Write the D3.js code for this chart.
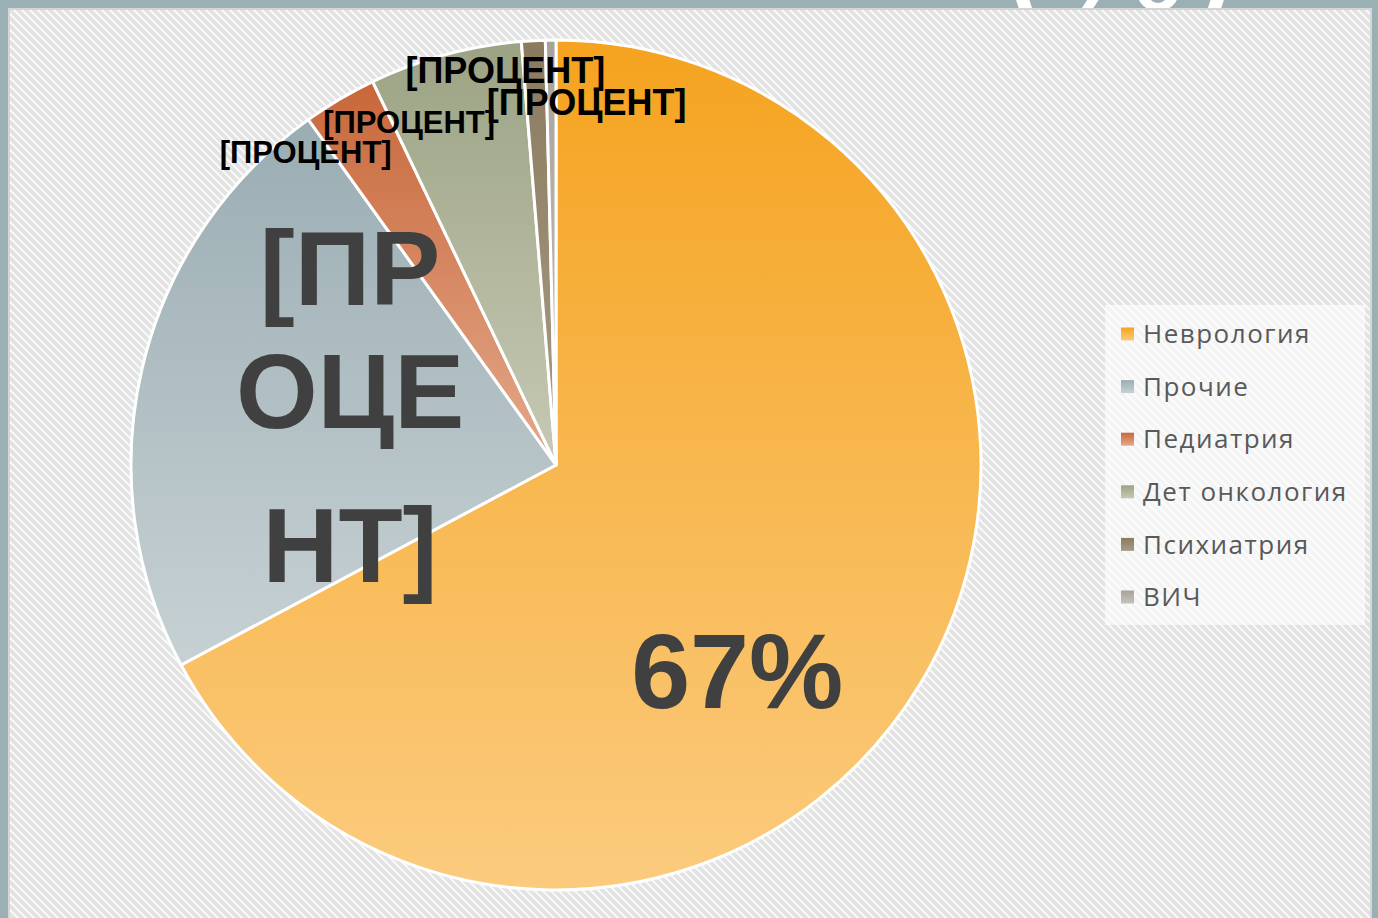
<!DOCTYPE html>
<html>
<head>
<meta charset="utf-8">
<script src="https://cdn.jsdelivr.net/npm/d3@7"></script>
<style>
  html, body { margin: 0; padding: 0; background: #9bb0b5; }
  svg { display: block; }
</style>
</head>
<body>
<svg id="chart" width="1378" height="918"></svg>
<script>
// data
const categories = ["Неврология", "Прочие", "Педиатрия", "Дет онкология", "Психиатрия", "ВИЧ"];
const shares = [67.2, 22.9, 2.8, 5.8, 0.9, 0.4];
const labelTexts = ["67%", "[ПРОЦЕНТ]", "[ПРОЦЕНТ]", "[ПРОЦЕНТ]", "[ПРОЦЕНТ]", "[ПРОЦЕНТ]"];

// gradient colours, top -> bottom
const topColors = ["#f5a31f", "#9aadb3", "#c8673a", "#9ca384", "#8a7a5e", "#a7a29a"];
const bottomColors = ["#fbcb7e", "#c7d1d4", "#e4a98b", "#c6c9b4", "#a99d87", "#c6c2bb"];

// label placement: radius fraction for the centroid + nudge, like the manual placement in the original
const labelLayout = [
  { k: 0.64, dx: -52, dy: 103, size: 106, fill: "#404040" },
  { k: 0.5, dx: 1, dy: 0, size: 105, fill: "#404040" },
  { k: 1, dx: -34, dy: 64, size: 31, fill: "#000" },
  { k: 1, dx: -36, dy: 78, size: 31, fill: "#000" },
  { k: 1, dx: -28, dy: 42, size: 36, fill: "#000" },
  { k: 1, dx: 36, dy: 75, size: 36, fill: "#000" }
];

const svg = d3.select("#chart");
const width = +svg.attr("width");
const height = +svg.attr("height");
const defs = svg.append("defs");

//hatch pattern for the plot area
const pat = defs.append("pattern")
  .attr("id", "hatch")
  .attr("patternUnits", "userSpaceOnUse")
  .attr("width", 8).attr("height", 8);
pat.append("rect").attr("width", 8).attr("height", 8).attr("fill", "#fbfbfb");
pat.append("path")
  .attr("d", "M-2,-2L10,10M-2,6L2,10M6,-2L10,2")
  .attr("stroke", "#e3e3e3")
  .attr("stroke-width", 3.8);

categories.forEach((c, i) => {
  const g = defs.append("linearGradient")
    .attr("id", "grad" + i)
    .attr("x1", 0).attr("y1", 0).attr("x2", 0).attr("y2", 1);
  g.append("stop").attr("offset", "0%").attr("stop-color", topColors[i]);
  g.append("stop").attr("offset", "100%").attr("stop-color", bottomColors[i]);
});

//slide title peeking in at the top
svg.append("text")
  .attr("x", 1120)
  .attr("y", 10)
  .attr("text-anchor", "middle")
  .attr("font-family", "Liberation Sans, Arial, sans-serif")
  .attr("font-size", 150)
  .attr("fill", "#fff")
  .text("(%)");

//plot area
svg.append("rect")
  .attr("x", 9).attr("y", 9)
  .attr("width", width - 16).attr("height", height)
  .attr("fill", "url(#hatch)")
  .attr("stroke", "#d6d6d6")
  .attr("stroke-width", 2);

const cx = 556, cy = 465, R = 425;
const pie = d3.pie().sort(null).value(d => d.v);
const arc = d3.arc().innerRadius(0).outerRadius(R);
const data = categories.map((c, i) => ({ name: c, v: shares[i], i }));
const arcs = pie(data);

const g = svg.append("g").attr("transform", `translate(${cx},${cy})`);

g.selectAll("path.slice")
  .data(arcs)
  .join("path")
  .attr("class", "slice")
  .attr("d", arc)
  .attr("fill", d => `url(#grad${d.data.i})`)
  .attr("stroke", "#fff")
  .attr("stroke-width", 3)
  .attr("stroke-linejoin", "round");

//labels
arcs.forEach((d, i) => {
  const L = labelLayout[i];
  const lab = d3.arc().innerRadius(R * L.k).outerRadius(R * L.k);
  const [x, y] = lab.centroid(d);
  const t = g.append("text")
    .attr("x", x + L.dx)
    .attr("y", y + L.dy)
    .attr("text-anchor", "middle")
    .attr("font-family", "Liberation Sans, Arial, sans-serif")
    .attr("font-weight", "bold")
    .attr("font-size", L.size)
    .attr("fill", L.fill);
  if (i === 1) {
    // big label wraps into three lines inside the slice
    const lines = ["[ПР", "ОЦЕ", "НТ]"];
    const gaps = [-112, 123, 154];
    lines.forEach((s, j) => {
      t.append("tspan").attr("x", x + L.dx).attr("dy", gaps[j]).text(s);
    });
  } else {
    t.text(labelTexts[i]);
  }
});

//legend
const legend = svg.append("g").attr("transform", "translate(1105,305)");
legend.append("rect")
  .attr("width", 260).attr("height", 320)
  .attr("fill", "#fff").attr("opacity", 0.6);
const item = legend.selectAll("g.item")
  .data(categories)
  .join("g")
  .attr("class", "item")
  .attr("transform", (d, i) => `translate(0,${29 + i * 52.6})`);
item.append("rect")
  .attr("x", 16).attr("y", -6.5)
  .attr("width", 13).attr("height", 13)
  .attr("fill", (d, i) => `url(#grad${i})`);
item.append("text")
  .attr("x", 38)
  .attr("y", 0)
  .attr("dy", "0.35em")
  .attr("font-family", "Open Sans, Noto Sans, sans-serif")
  .attr("font-size", 26)
  .attr("letter-spacing", 1.5)
  .attr("fill", "#595959")
  .text(d => d);
</script>
</body>
</html>
